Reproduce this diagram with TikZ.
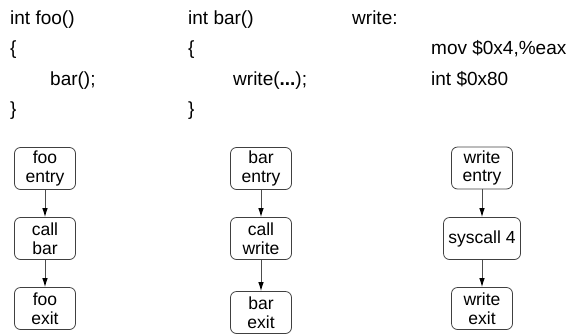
\documentclass[tikz,border=0pt]{standalone}
\usepackage{fontspec}
\setmainfont{Liberation Sans}
\usetikzlibrary{positioning,arrows.meta}

\begin{document}
\begin{tikzpicture}[x=1pt, y=-1pt,
                codeline/.style={anchor=base west, inner sep=0pt, font=\fontsize{19}{23}\selectfont},
                block/.style={draw=black!75, rounded corners=6pt, line width=0.8pt, minimum width=61pt,
                        minimum height=42pt, align=center, inner sep=1pt, font=\fontsize{17.5}{18.5}\selectfont},
                flow/.style={black!70, line width=0.9pt, -{Latex[length=9pt, width=5.5pt, black]}}]
                \useasboundingbox (0, 0) rectangle (577, 335);
                % source code
                \node [codeline] (fooname) at (10, 24) {int foo()};
                \node [codeline] (fooopen) at (10, 54.5) {\{};
                \node [codeline] (foobody) at (50, 85) {bar();};
                \node [codeline] (fooclose) at (10, 115) {\}};
                \node [codeline] (barname) at (188, 24) {int bar()};
                \node [codeline] (baropen) at (188, 54.5) {\{};
                \node [codeline] (barbody) at (233, 85) {write(\textbf{...});};
                \node [codeline] (barclose) at (188, 115) {\}};
                \node [codeline] (writename) at (352, 24) {write:};
                \node [codeline] (writemov) at (431, 54.5) {mov \$0x4,\%eax};
                \node [codeline] (writeint) at (431, 85) {int \$0x80};
                % control flow graphs
                \node [block] (fooentry) at (45, 168.5) {foo\\entry};
                \node [block] (foocall) at (45, 238.5) {call\\bar};
                \node [block] (fooexit) at (45, 308.5) {foo\\exit};
                \node [block] (barentry) at (261, 168.5) {bar\\entry};
                \node [block] (barcall) at (261, 238.5) {call\\write};
                \node [block] (barexit) at (261, 312.5) {bar\\exit};
                \node [block] (writeentry) at (482, 168) {write\\entry};
                \node [block, minimum width=77pt] (syscall) at (482, 238.5) {syscall 4};
                \node [block] (writeexit) at (482, 308.5) {write\\exit};
                \draw [flow] (fooentry) -- (foocall);
                \draw [flow] (foocall) -- (fooexit);
                \draw [flow] (barentry) -- (barcall);
                \draw [flow] (barcall) -- (barexit);
                \draw [flow] (writeentry) -- (syscall);
                \draw [flow] (syscall) -- (writeexit);
            \end{tikzpicture}
\end{document}
